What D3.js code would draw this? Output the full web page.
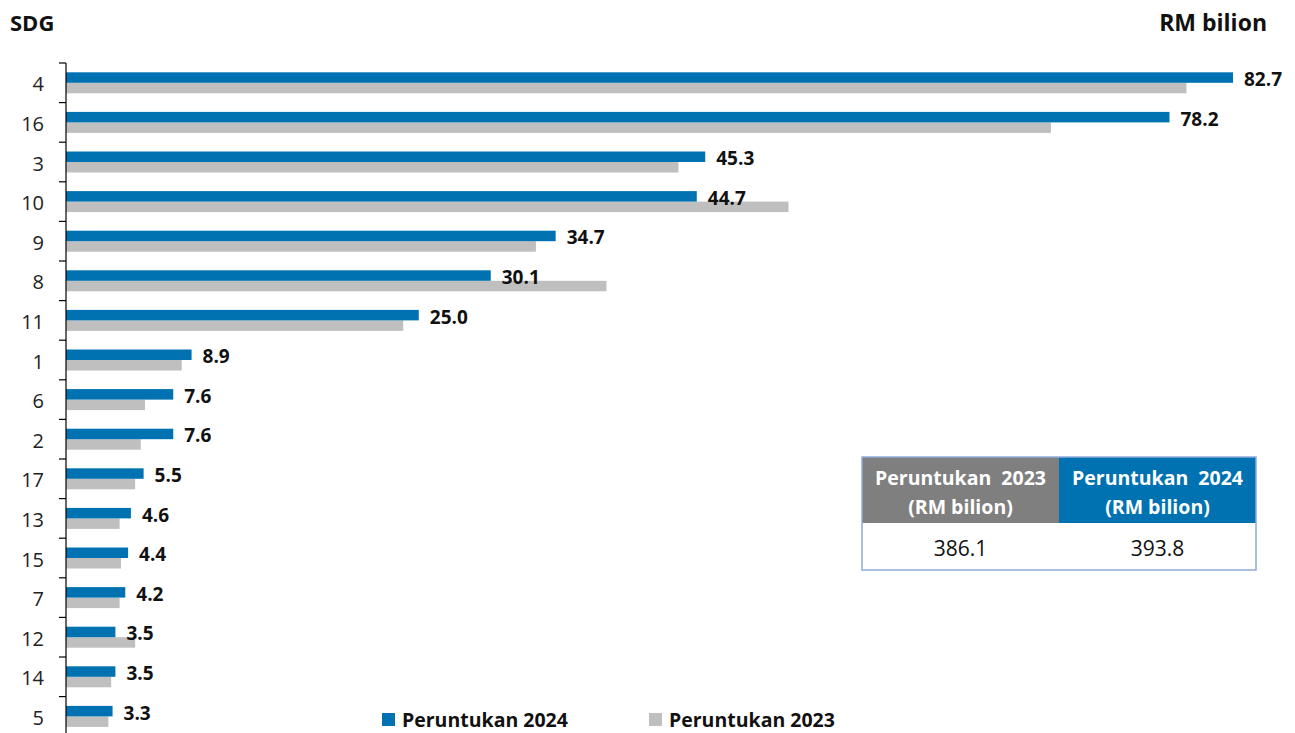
<!DOCTYPE html>
<html><head><meta charset="utf-8">
<script src="https://cdn.jsdelivr.net/npm/d3@7"></script>
<style>body{margin:0;background:#fff;}svg{display:block;font-family:"Open Sans",sans-serif;}</style>
</head><body>
<svg id="c" width="1295" height="733"></svg>
<script>
const sdg = ["4","16","3","10","9","8","11","1","6","2","17","13","15","7","12","14","5"];
const v2024 = [82.7,78.2,45.3,44.7,34.7,30.1,25.0,8.9,7.6,7.6,5.5,4.6,4.4,4.2,3.5,3.5,3.3];
const v2023 = [79.4,69.8,43.4,51.2,33.3,38.3,23.9,8.2,5.6,5.3,4.9,3.8,3.9,3.8,4.9,3.2,3.0];
const seriesNames = ["Peruntukan 2024","Peruntukan 2023"];
const tableHeads = ["Peruntukan  2023","Peruntukan  2024"];
const tableTotals = [386.1, 393.8];

const BLUE = "#0072B1", GRAY = "#BFBFBF";
const svg = d3.select("#c");
const x = d3.scaleLinear().domain([0, 82.7]).range([66, 1233]);
const y = d3.scaleBand().domain(sdg).range([63, 63 + 17*39.6]).paddingInner(0).paddingOuter(0);
const barH = 10.5, off = (y.bandwidth() - 2*barH)/2;

// bars
const g = svg.append("g");
g.selectAll(".b23").data(sdg).join("rect")
  .attr("x", x(0)).attr("y", (d)=>y(d)+off+barH)
  .attr("width", (d,i)=>x(v2023[i])-x(0)).attr("height", barH).attr("fill", GRAY);
g.selectAll(".b24").data(sdg).join("rect")
  .attr("x", x(0)).attr("y", (d)=>y(d)+off)
  .attr("width", (d,i)=>x(v2024[i])-x(0)).attr("height", barH).attr("fill", BLUE);
g.selectAll(".lab").data(sdg).join("text")
  .attr("x", (d,i)=>x(v2024[i])+11).attr("y", (d)=>y(d)+off+barH/2+1.5)
  .attr("dominant-baseline","central")
  .attr("font-size",19).attr("font-weight","bold").attr("fill","#111")
  .text((d,i)=>v2024[i].toFixed(1));

// y axis
const ax = svg.append("g").attr("transform","translate(66,0)");
ax.append("line").attr("x1",0).attr("x2",0).attr("y1",63).attr("y2",740).attr("stroke","#000").attr("stroke-width",1.2);
ax.selectAll(".t").data(d3.range(18)).join("line")
  .attr("x1",-7).attr("x2",0).attr("y1",(i)=>63+i*y.step()).attr("y2",(i)=>63+i*y.step())
  .attr("stroke","#000").attr("stroke-width",1.2);
ax.selectAll(".cl").data(sdg).join("text")
  .attr("x",-22).attr("y",(d)=>y(d)+y.bandwidth()/2+1).attr("text-anchor","end")
  .attr("dominant-baseline","central").attr("font-size",20).attr("fill","#222").text(d=>d);

// titles
svg.append("text").attr("x",10).attr("y",31).attr("font-size",22).attr("font-weight","bold").attr("fill","#111").text("SDG");
svg.append("text").attr("x",1267).attr("y",31).attr("text-anchor","end").attr("font-size",23).attr("font-weight","bold").attr("fill","#111").text("RM bilion");

// legend
const leg = [{x:382,c:BLUE},{x:649,c:GRAY}];
leg.forEach((l,i)=>{
  svg.append("rect").attr("x",l.x).attr("y",713).attr("width",13).attr("height",13).attr("fill",l.c);
  svg.append("text").attr("x",l.x+20).attr("y",727).attr("font-size",19.5).attr("font-weight","bold").attr("fill","#111").text(seriesNames[i]);
});

// table
const tx = 862, tw = 394, ty = 457, hh = 66, bh = 47, cw = tw/2;
const tcol = ["#7F7F7F", BLUE];
tableHeads.forEach((h,i)=>{
  svg.append("rect").attr("x",tx+i*cw).attr("y",ty).attr("width",cw).attr("height",hh).attr("fill",tcol[i]);
  svg.append("text").attr("x",tx+i*cw+cw/2).attr("y",485).attr("text-anchor","middle").attr("font-size",19.5).attr("font-weight","bold").attr("fill","#fff").attr("xml:space","preserve").style("white-space","pre").text(h);
  svg.append("text").attr("x",tx+i*cw+cw/2).attr("y",514).attr("text-anchor","middle").attr("font-size",19.5).attr("font-weight","bold").attr("fill","#fff").text("(RM bilion)");
  svg.append("text").attr("x",tx+i*cw+cw/2).attr("y",556).attr("text-anchor","middle").attr("font-size",21).attr("fill","#111").text(tableTotals[i].toFixed(1));
});
svg.append("rect").attr("x",tx).attr("y",ty).attr("width",tw).attr("height",hh+bh).attr("fill","none").attr("stroke","#8EAADB").attr("stroke-width",1.5);
</script>
</body></html>
